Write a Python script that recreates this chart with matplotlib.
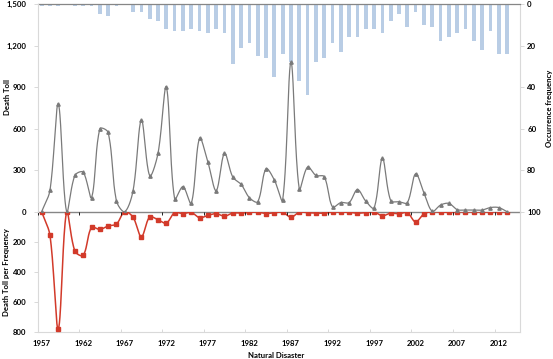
import numpy as np
import matplotlib
matplotlib.use("Agg")
import matplotlib.pyplot as plt

years = list(range(1957, 2014))

frequency = [1, 1, 1, 0, 1, 1, 1, 5, 6, 1,
             0, 4, 4, 7, 8, 12, 13, 13, 12, 13,
             14, 12, 14, 29, 21, 19, 25, 26, 35, 24,
             28, 37, 44, 28, 26, 19, 23, 16, 16, 12,
             12, 14, 8, 5, 11, 4, 10, 11, 18, 16,
             14, 12, 18, 22, 13, 24, 24]

death_toll = [0, 155, 778, 0, 262, 285, 102, 598, 572, 78,
              0, 152, 662, 260, 421, 900, 92, 181, 60, 530,
              359, 152, 421, 250, 198, 101, 72, 310, 229, 84,
              1080, 164, 323, 262, 253, 34, 66, 66, 160, 76,
              27, 385, 80, 72, 65, 274, 137, 3, 48, 60,
              15, 12, 12, 12, 30, 30, 0]

toll_per_freq = [0, 158, 780, 0, 262, 290, 104, 118, 95, 82,
                 0, 37, 166, 35, 54, 76, 6, 13, 5, 40,
                 25, 13, 30, 9, 9, 5, 3, 12, 7, 4,
                 37, 4, 7, 9, 10, 2, 3, 4, 10, 6,
                 2, 27, 10, 14, 6, 68, 14, 0, 3, 4,
                 1, 1, 1, 1, 2, 1, 0]

x_tick_years = [1957, 1962, 1967, 1972, 1977, 1982, 1987, 1992, 1997, 2002, 2007, 2012]
top_ticks = [0, 300, 600, 900, 1200, 1500]
top_labels = ["0", "300", "600", "900", "1,200", "1,500"]
bottom_ticks = [200, 400, 600, 800]
right_ticks = [0, 20, 40, 60, 80, 100]


def smooth(xs, ys, sx, sy, n=30):
    """Excel-like smoothed line: Bezier segments, tangents scaled by screen-space lengths."""
    P = np.column_stack([np.asarray(xs, float) * sx, np.asarray(ys, float) * sy])
    N = len(P)
    d = np.hypot(*(P[1:] - P[:-1]).T)
    X, Y = [], []
    t = np.linspace(0, 1, n, endpoint=False)[:, None]
    for i in range(N - 1):
        p0, p3 = P[i], P[i + 1]
        prev = P[i - 1] if i > 0 else P[i]
        nxt = P[i + 2] if i + 2 < N else P[i + 1]
        dprev = d[i - 1] if i > 0 else 0.0
        dnext = d[i + 1] if i + 2 < N else 0.0
        f1 = d[i] / (dprev + d[i]) / 3.0 if (dprev + d[i]) > 0 else 0
        f2 = d[i] / (d[i] + dnext) / 3.0 if (d[i] + dnext) > 0 else 0
        p1 = p0 + (p3 - prev) * f1
        p2 = p3 - (nxt - p0) * f2
        B = ((1 - t) ** 3) * p0 + 3 * ((1 - t) ** 2) * t * p1 + 3 * (1 - t) * t ** 2 * p2 + t ** 3 * p3
        X.append(B[:, 0])
        Y.append(B[:, 1])
    X.append([P[-1, 0]])
    Y.append([P[-1, 1]])
    return np.concatenate(X) / sx, np.concatenate(Y) / sy


plt.rcParams['font.family'] = ['Lato', 'DejaVu Sans']
plt.rcParams['font.weight'] = 'bold'

W, H = 553, 359
fig = plt.figure(figsize=(W / 100, H / 100), dpi=100)

left, right = 37.5, 519.5
top_px, zero_px, bot_px = 4, 211.7, 332

ax_top = fig.add_axes([left / W, 1 - zero_px / H, (right - left) / W, (zero_px - top_px) / H])
ax_bot = fig.add_axes([left / W, 1 - bot_px / H, (right - left) / W, (bot_px - zero_px) / H], sharex=ax_top)
ax_r = ax_top.twinx()
ax_top.set_zorder(ax_r.get_zorder() + 1)
ax_top.patch.set_visible(False)

light = '#d9d9d9'
dark = '#868686'
fs = 5.6

# bars
ax_r.bar(years, frequency, width=0.45, color='#b9cde5', align='center')
ax_r.set_ylim(100, 0)
ax_r.set_yticks(right_ticks)
ax_r.set_yticklabels([str(v) for v in right_ticks], fontsize=fs, fontweight='bold')
ax_r.tick_params(axis='y', direction='out', length=3, width=0.7, color=light, pad=2.5)
for s in ['left', 'bottom']:
    ax_r.spines[s].set_visible(False)
ax_r.spines['right'].set_color(light)
ax_r.spines['right'].set_linewidth(0.8)
ax_r.spines['top'].set_color(dark)
ax_r.spines['top'].set_linewidth(0.9)
ax_r.set_ylabel('Occurrence frequency', fontsize=fs, fontweight='bold', rotation=90, labelpad=4)

px_per_year = (right - left) / 58.0
# gray line
sx, sy = smooth(years, death_toll, px_per_year, (zero_px - top_px) / 1500.0)
ax_top.plot(sx, sy, color='#7a7a7a', lw=0.9, zorder=3)
ax_top.plot(years, death_toll, ls='none', marker='^', ms=2.4, color='#7a7a7a', zorder=4)
ax_top.set_ylim(0, 1500)
ax_top.set_yticks(top_ticks)
ax_top.set_yticklabels(top_labels, fontsize=fs, fontweight='bold')
ax_top.tick_params(axis='y', direction='out', length=3, width=0.7, color=light, pad=5)
ax_top.tick_params(axis='x', bottom=False, labelbottom=False)
for s in ['top', 'right', 'bottom']:
    ax_top.spines[s].set_visible(False)
ax_top.spines['left'].set_color(light)
ax_top.spines['left'].set_linewidth(0.8)

# red line
rx, ry = smooth(years, toll_per_freq, px_per_year, (bot_px - zero_px) / 800.0)
ax_bot.plot(rx, ry, color='#d23a2a', lw=1.1, zorder=3)
ax_bot.plot(years, toll_per_freq, ls='none', marker='s', ms=2.3, color='#d23a2a', zorder=4)
ax_bot.set_ylim(800, 0)
ax_bot.set_yticks(bottom_ticks)
ax_bot.set_yticklabels([str(v) for v in bottom_ticks], fontsize=fs, fontweight='bold')
ax_bot.tick_params(axis='y', direction='out', length=3, width=0.7, color=light, pad=5)
for s in ['left', 'right', 'bottom']:
    ax_bot.spines[s].set_color(light)
    ax_bot.spines[s].set_linewidth(0.8)
ax_bot.spines['top'].set_visible(False)
ax_bot.axhline(0, color=dark, lw=1.0, zorder=2, clip_on=False)

ax_bot.set_xlim(1956.5, 2014.5)
ax_bot.set_xticks(x_tick_years)
ax_bot.set_xticklabels([str(y) for y in x_tick_years], fontsize=fs, fontweight='bold')
ax_bot.set_xticks([y - 0.5 for y in x_tick_years], minor=True)
ax_bot.tick_params(axis='x', which='major', length=0, pad=5.5)
ax_bot.tick_params(axis='x', which='minor', direction='in', length=2.5, width=0.7, color=light)

fig.text(7 / W, 1 - 97 / H, 'Death Toll', rotation=90, ha='center', va='center',
         fontsize=fs, fontweight='bold')
fig.text(7 / W, 1 - 272 / H, 'Death Toll per Frequency', rotation=90, ha='center', va='center',
         fontsize=fs, fontweight='bold')
fig.text(276 / W, 1 - 355 / H, 'Natural Disaster', ha='center', va='center',
         fontsize=fs, fontweight='bold')

fig.savefig('out.png', dpi=100)
